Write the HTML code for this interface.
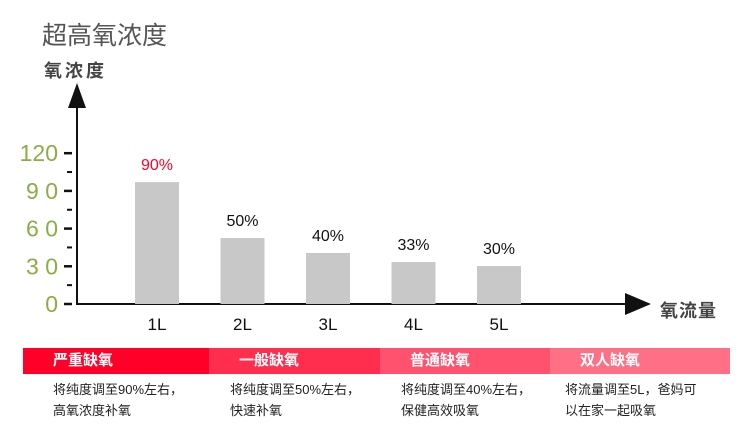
<!DOCTYPE html>
<html><head><meta charset="utf-8"><style>
body{margin:0;width:750px;height:447px;background:#fff;overflow:hidden;font-family:"Liberation Sans","Noto Sans CJK SC",sans-serif;}
svg text{font-family:"Liberation Sans","Noto Sans CJK SC",sans-serif;}
.band{position:absolute;top:348px;height:26px;color:#fff;font-size:15px;font-weight:bold;line-height:26px;box-sizing:border-box;padding-left:30px;}
.desc{position:absolute;top:379px;font-size:13px;line-height:21px;color:#222;}
</style></head><body>
<svg width="750" height="447" style="position:absolute;left:0;top:0">
<text x="42" y="44" font-size="25" fill="#555">超高氧浓度</text>
<text x="44" y="77" font-size="18" font-weight="bold" fill="#444" letter-spacing="3">氧浓度</text>
<text x="660" y="317" font-size="18" font-weight="bold" fill="#444" letter-spacing="1">氧流量</text>
<g id="axes"></g>
<g id="bars"></g>
</svg>
<div class="band" style="left:23px;width:186px;background:#ff0028">严重缺氧</div>
<div class="band" style="left:209px;width:171px;background:#ff2e4e">一般缺氧</div>
<div class="band" style="left:380px;width:170px;background:#ff526e">普通缺氧</div>
<div class="band" style="left:550px;width:180px;background:#ff6f86">双人缺氧</div>
<div class="desc" style="left:53px">将纯度调至90%左右，<br>高氧浓度补氧</div>
<div class="desc" style="left:230px">将纯度调至50%左右，<br>快速补氧</div>
<div class="desc" style="left:401px">将纯度调至40%左右，<br>保健高效吸氧</div>
<div class="desc" style="left:565px">将流量调至5L，爸妈可<br>以在家一起吸氧</div>
<script>
const categories=["1L","2L","3L","4L","5L"];
const values=[97,52.5,40.6,33.4,30.2];
const valueLabels=["90%","50%","40%","33%","30%"];
const yTicks=[0,30,60,90,120];
const yTickLabels=["0","3 0","6 0","9 0","120"];
const NS="http://www.w3.org/2000/svg";
const y0=304,pxPer=37.7/30;
const y=v=>y0-v*pxPer;
const x=i=>157+i*85.5;
function mk(tag,attrs,parent){const e=document.createElementNS(NS,tag);for(const k in attrs)e.setAttribute(k,attrs[k]);parent.appendChild(e);return e;}
const axes=document.getElementById('axes'),bars=document.getElementById('bars');
let l=mk('line',{x1:77,y1:100,x2:77,y2:305,stroke:'#111','stroke-width':2},axes);


let a=mk('polygon',{points:'77,83 68,108 86,108',fill:'#111'},axes);


l=mk('line',{x1:76,y1:304,x2:630,y2:304,stroke:'#111','stroke-width':2},axes);


a=mk('polygon',{points:'651,304 625,293 625,315',fill:'#111'},axes);


yTicks.forEach((t,i)=>{
 let tk=mk('line',{x1:64,y1:y(t),x2:72,y2:y(t),stroke:'#111','stroke-width':2.5},axes);
 
 
 let tx=mk('text',{x:58,y:y(t)+8,'font-size':23,fill:'#8aad45','text-anchor':'end'},axes);
 tx.textContent=yTickLabels[i];
 
 
 if(i<yTicks.length-1){let m=mk('line',{x1:67,y1:y(t+15),x2:72,y2:y(t+15),stroke:'#111','stroke-width':2},axes);
 
 }
});
categories.forEach((c,i)=>{
 let r=mk('rect',{x:x(i)-22,y:y(values[i]),width:44,height:y0-y(values[i]),fill:'#c8c8c8'},bars);
 
 
 let t=mk('text',{x:x(i),y:y(values[i])-12,'font-size':16,fill:i==0?'#ff0028':'#111','text-anchor':'middle'},bars);
 t.textContent=valueLabels[i];
 
 
 let xl=mk('text',{x:x(i),y:330,'font-size':17,fill:'#111','text-anchor':'middle'},bars);
 xl.textContent=c;
 
 
});
</script>
</body></html>
